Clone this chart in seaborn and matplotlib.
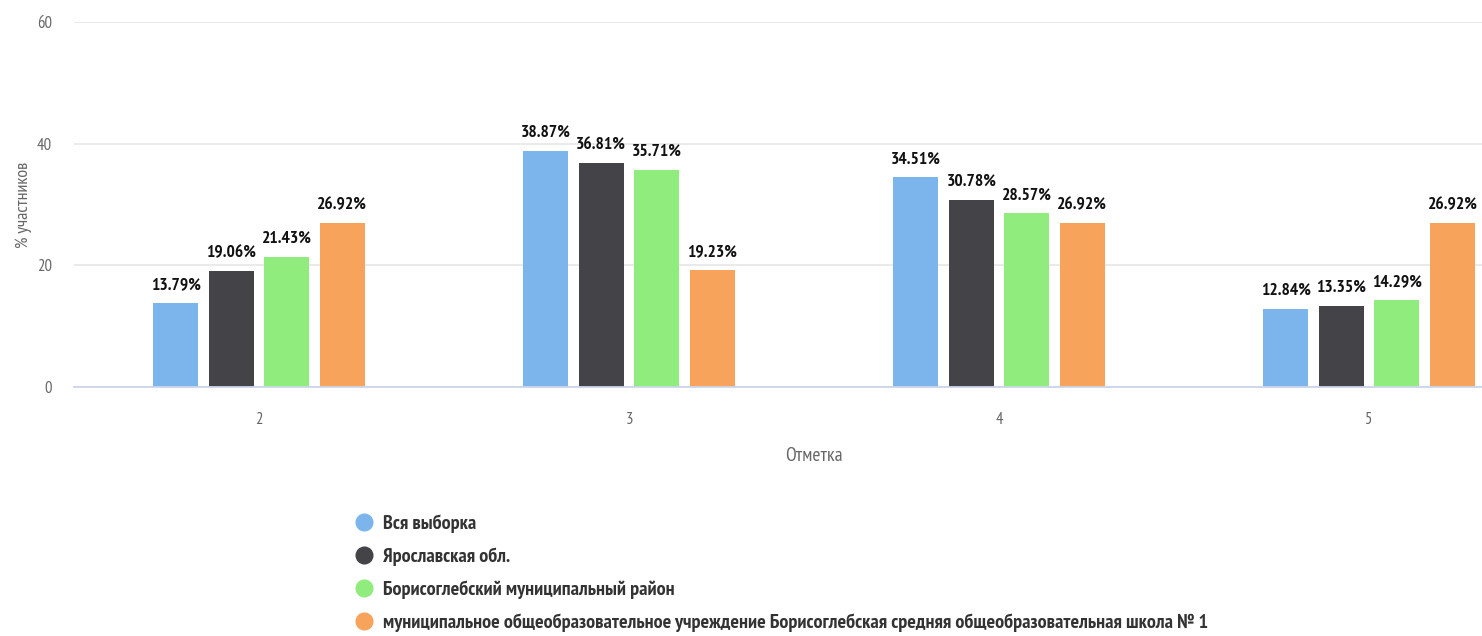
import numpy as np
import pandas as pd
import matplotlib
matplotlib.use("Agg")
import matplotlib.pyplot as plt
from matplotlib import font_manager
from matplotlib.ft2font import FT2Font
from matplotlib.lines import Line2D
import seaborn as sns

marks = ["2", "3", "4", "5"]
groups = ["Вся выборка",
          "Ярославская обл.",
          "Борисоглебский муниципальный район",
          "муниципальное общеобразовательное учреждение Борисоглебская средняя общеобразовательная школа № 1"]
vals_all = [13.79, 38.87, 34.51, 12.84]
vals_region = [19.06, 36.81, 30.78, 13.35]
vals_district = [21.43, 35.71, 28.57, 14.29]
vals_school = [26.92, 19.23, 26.92, 26.92]
colors = ["#7cb5ec", "#434348", "#90ed7d", "#f7a35c"]

rows = []
for g, v in zip(groups, [vals_all, vals_region, vals_district, vals_school]):
    for m, x in zip(marks, v):
        rows.append({"Отметка": m, "group": g, "pct": x})
df = pd.DataFrame(rows)


def has_cyrillic(path):
    try:
        cmap = FT2Font(path).get_charmap()
        return ord("ж") in cmap and ord("Б") in cmap
    except Exception:
        return False


def wnum(w):
    if isinstance(w, int):
        return w
    return 700 if "bold" in str(w) else 400


def text_width(path, s):
    ft = FT2Font(path)
    ft.set_size(10, 100)
    ft.set_text(s, 0.0)
    return ft.get_width_height()[0] / 64


# the original uses a very narrow face: pick the narrowest bold one with cyrillic
fonts = font_manager.fontManager.ttflist
best, best_w = None, 1e9
for f in fonts:
    if wnum(f.weight) < 600 or f.style != "normal":
        continue
    if not ("Narrow" in f.name or "Condensed" in f.name or "condensed" in str(f.stretch)):
        continue
    if not has_cyrillic(f.fname):
        continue
    w = text_width(f.fname, "Борисоглебский 13.79%")
    if w < best_w:
        best, best_w = f, w

sns.set_style("white")
if best is not None:
    plt.rcParams["font.family"] = [best.name, "DejaVu Sans"]
    plt.rcParams["font.stretch"] = best.stretch
else:
    plt.rcParams["font.family"] = ["Liberation Sans", "DejaVu Sans"]

fig = plt.figure(figsize=(14.82, 6.36), dpi=100)
renderer = fig.canvas.get_renderer()


def fit_size(s, target_px, weight="normal", cap=30):
    t = fig.text(0, 0, s, fontsize=10, fontweight=weight)
    w = t.get_window_extent(renderer).width
    t.remove()
    return min(cap, 10 * target_px / w)


lab_size = fit_size("13.79%", 50, "bold", 14)
leg_size = fit_size(groups[3], 828, "bold", 15)
tick_size = fit_size("60", 15, "normal", 13)
xl_size = fit_size("Отметка", 60, "normal", 14)
yl_size = fit_size("% участников", 125, "normal", 13)

ax = fig.add_axes([74 / 1482, 249 / 636, 1 - 74 / 1482, 365 / 636])

sns.barplot(df, x="Отметка", y="pct", hue="group", order=marks, hue_order=groups,
            palette=colors, saturation=1, width=0.6, gap=0.19, legend=False, ax=ax,
            linewidth=0, errorbar=None)

for c in ax.containers:
    ax.bar_label(c, labels=[f"{b.get_height():.2f}%" for b in c], padding=7,
                 fontsize=lab_size, fontweight="bold", color="#111111")

ax.set_xlim(-0.5, 3.305)
ax.set_ylim(0, 60)
ax.set_yticks([0, 20, 40, 60])
ax.grid(axis="y", color="#e6e6e6", linewidth=1.2)
ax.set_axisbelow(True)
for s in ["top", "right", "left"]:
    ax.spines[s].set_visible(False)
ax.spines["bottom"].set_color("#ccd6eb")
ax.spines["bottom"].set_linewidth(1.3)
ax.tick_params(axis="y", length=0, pad=16, labelsize=tick_size, labelcolor="#666666")
ax.tick_params(axis="x", length=0, pad=18, labelsize=tick_size, labelcolor="#666666")

ax.set_ylabel("% участников", fontsize=yl_size, color="#666666")
ax.yaxis.set_label_coords(-0.03, 0.50)
ax.set_xlabel("Отметка", fontsize=xl_size, color="#666666")
ax.xaxis.set_label_coords((814 - 74) / 1408, -0.165)

handles = [Line2D([], [], marker="o", linestyle="", markersize=12,
                  markerfacecolor=c, markeredgecolor=c) for c in colors]
fig.legend(handles, groups, loc="upper left", bbox_to_anchor=(336 / 1482, 1 - 496 / 636),
           frameon=False, handlelength=1.0, handletextpad=0.45, labelspacing=0.72,
           prop={"weight": "bold", "size": leg_size}, labelcolor="#333333")

fig.savefig("out.png", dpi=100)
